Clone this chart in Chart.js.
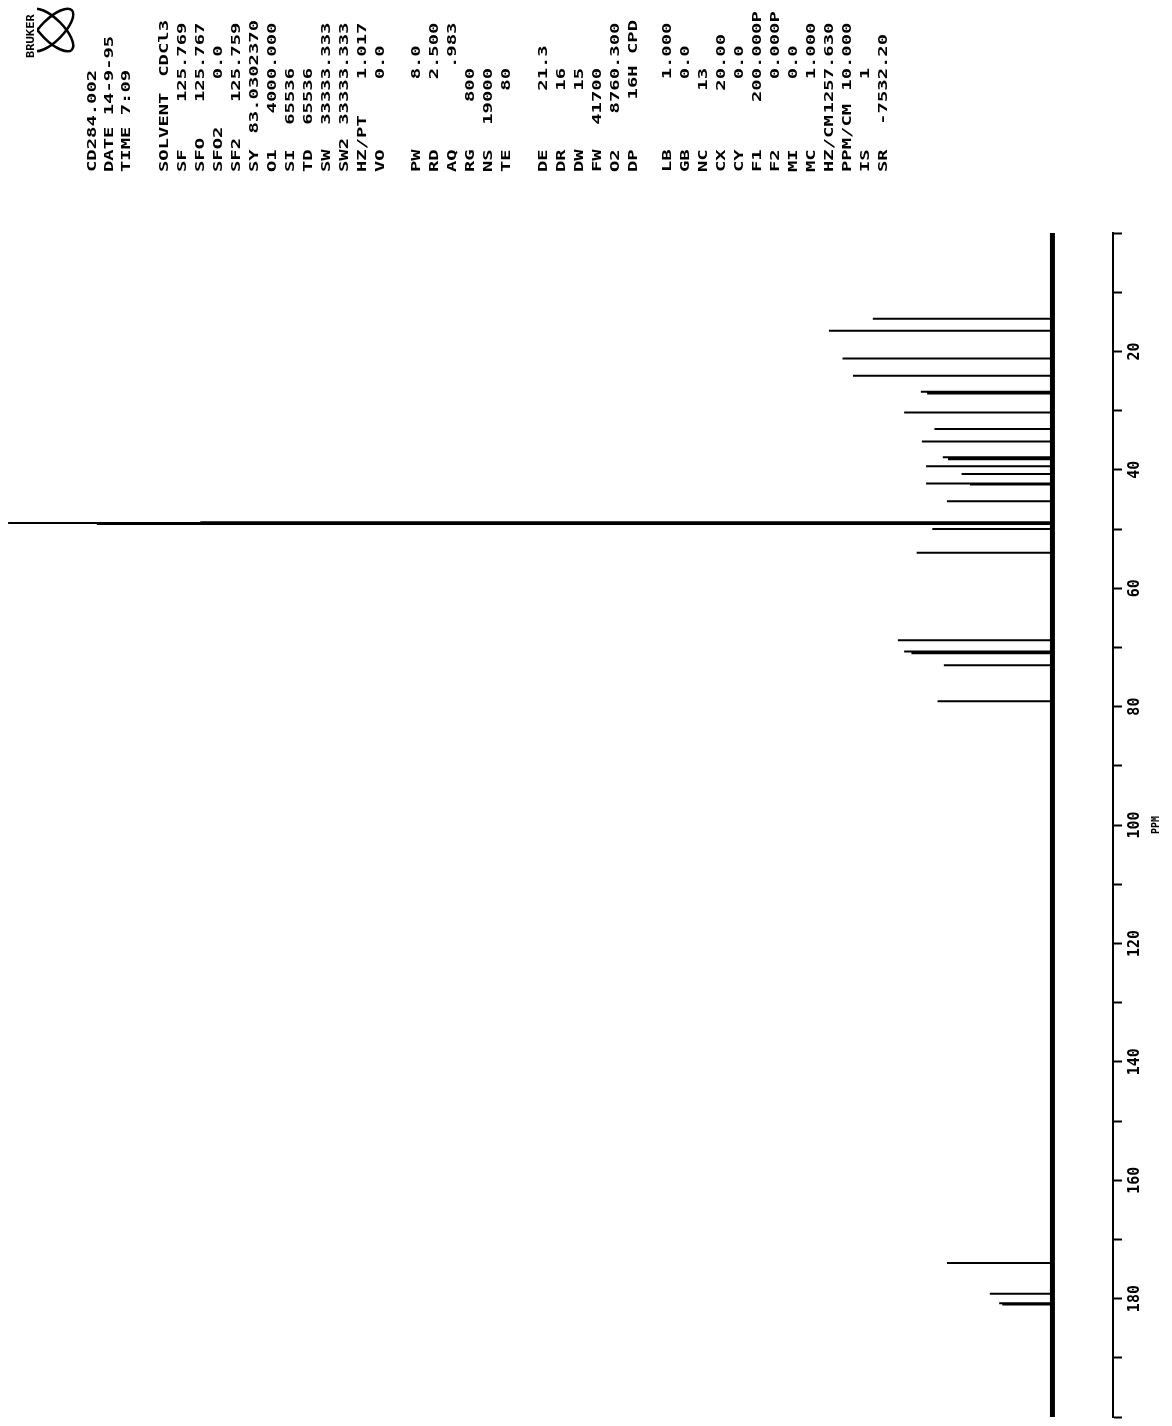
<!DOCTYPE html>
<html>
<head>
<meta charset="utf-8">
<script src="https://cdn.jsdelivr.net/npm/chart.js@4/dist/chart.umd.min.js"></script>
<style>
  html, body { margin: 0; padding: 0; background: #fff; }
  #wrap { position: relative; width: 1172px; height: 1426px; }
</style>
</head>
<body>
<div id="wrap"><canvas id="chart"></canvas></div>
<script>
// 13C spectrum, peaks (ppm, relative height, tallest = 100)
const peakPpm = [14.5, 16.5, 21.2, 24.1, 26.8, 27.1, 30.3, 33.1, 35.2, 37.9, 38.2, 39.4, 40.7, 42.3, 42.5, 45.3,
  48.85, 49.0, 49.15, 50.0, 54.0, 68.8, 70.7, 71.0, 73.0, 79.1, 174.0, 179.2, 180.8, 181.0];
const peakHeight = [17.2, 21.4, 20.1, 19.1, 12.6, 12.0, 14.2, 11.3, 12.5, 10.5, 10.0, 12.1, 8.7, 12.1, 7.9, 10.1,
  81.6, 100, 91.5, 11.5, 13.0, 14.8, 14.2, 13.5, 10.4, 11.0, 10.1, 6.0, 5.1, 4.8];
const ppmRange = [0, 200];
const ppmLabels = [20, 40, 60, 80, 100, 120, 140, 160, 180];

// acquisition parameters printed above the spectrum
const headerLines = ["CD284.002", "DATE 14-9-95", "TIME 7:09"];
const paramBlocks = [
  [["SOLVENT", "CDCl3"], ["SF", "125.769"], ["SFO", "125.767"], ["SFO2", "0.0"], ["SF2", "125.759"],
   ["SY", "83.0302370"], ["O1", "4000.000"], ["SI", "65536"], ["TD", "65536"], ["SW", "33333.333"],
   ["SW2", "33333.333"], ["HZ/PT", "1.017"], ["VO", "0.0"]],
  [["PW", "8.0"], ["RD", "2.500"], ["AQ", ".983"], ["RG", "800"], ["NS", "19000"], ["TE", "80"]],
  [["DE", "21.3"], ["DR", "16"], ["DW", "15"], ["FW", "41700"], ["O2", "8760.300"], ["DP", "16H CPD"]],
  [["LB", "1.000"], ["GB", "0.0"], ["NC", "13"], ["CX", "20.00"], ["CY", "0.0"], ["F1", "200.000P"],
   ["F2", "0.000P"], ["MI", "0.0"], ["MC", "1.000"], ["HZ/CM", "1257.630"], ["PPM/CM", "10.000"],
   ["IS", "1"], ["SR", "-7532.20"]]
];

const spectrum = [];
peakPpm.forEach((p, i) => {
  spectrum.push({ x: 0, y: p }, { x: peakHeight[i], y: p }, { x: 0, y: p });
});

const FONT = "bold 13px 'DejaVu Sans Mono'";
const STRETCH = 1.45;

// draws a string rotated to read bottom-to-top, d = distance up from the foot
function upText(ctx, str, x, foot, d, align, stretch = STRETCH) {
  ctx.save();
  ctx.translate(x, foot);
  ctx.rotate(-Math.PI / 2);
  ctx.scale(stretch, 1);
  ctx.textAlign = align;
  ctx.textBaseline = "middle";
  ctx.fillText(str, d / stretch, 0);
  ctx.restore();
}

const paperText = {
  id: "paperText",
  afterDraw(chart) {
    const ctx = chart.ctx;
    ctx.save();
    ctx.fillStyle = "#000";
    ctx.strokeStyle = "#000";

    // logo
    ctx.lineWidth = 2.5;
    [Math.PI / 4, -Math.PI / 4].forEach(a => {
      ctx.beginPath();
      ctx.ellipse(52, 30, 28, 11, a, 0, Math.PI * 2);
      ctx.stroke();
    });
    ctx.font = "bold 11px 'DejaVu Sans Mono'";
    ctx.fillStyle = "#fff";
    ctx.fillRect(25, 6, 12, 52);
    ctx.fillStyle = "#000";
    upText(ctx, "BRUKER", 31, 58, 0, "left", 1.1);

    ctx.font = FONT;
    const foot = 172;
    headerLines.forEach((s, i) => upText(ctx, s, 93 + i * 17, foot, 0, "left"));

    const starts = [165, 417, 544, 668];
    const dec = foot - 68;
    paramBlocks.forEach((rows, b) => {
      rows.forEach(([name, val], i) => {
        const x = starts[b] + i * 18;
        upText(ctx, name, x, foot, 0, "left");
        const parts = val.split(".");
        const numeric = /^[-\d.]+P?$/.test(val) && (parts.length < 2 || parts[1].length <= 4);
        if (numeric) {
          upText(ctx, parts[0], x, foot, dec, "right");
          if (parts.length > 1) upText(ctx, "." + parts[1], x, foot, dec, "left");
        } else {
          upText(ctx, val, x, foot, foot - 20, "right");
        }
      });
    });

    // unit beside the 100 label
    const ys = chart.scales.y;
    ctx.font = "bold 10px 'DejaVu Sans Mono'";
    ctx.save();
    ctx.translate(ys.left + 43, ys.getPixelForValue(100));
    ctx.rotate(-Math.PI / 2);
    ctx.textAlign = "center";
    ctx.textBaseline = "middle";
    ctx.fillText("PPM", 0, 0);
    ctx.restore();
    ctx.restore();
  }
};

new Chart(document.getElementById("chart"), {
  type: "scatter",
  data: {
    datasets: [
      {
        data: [{ x: 0, y: ppmRange[0] }, { x: 0, y: ppmRange[1] }],
        showLine: true, borderColor: "#000", borderWidth: 5, pointRadius: 0
      },
      {
        data: spectrum,
        showLine: true, borderColor: "#000", borderWidth: 2, pointRadius: 0,
        borderJoinStyle: "bevel", tension: 0
      }
    ]
  },
  options: {
    responsive: true,
    maintainAspectRatio: false,
    animation: false,
    events: [],
    layout: { padding: { top: 233, bottom: 0, left: 5, right: 19 } },
    plugins: { legend: { display: false }, tooltip: { enabled: false } },
    scales: {
      x: { type: "linear", reverse: true, min: -5.8, max: 100.3, display: false },
      y: {
        type: "linear", reverse: true, position: "right",
        min: ppmRange[0], max: ppmRange[1],
        afterFit: s => { s.width = 40; },
        border: { color: "#000", width: 2 },
        grid: { drawOnChartArea: false, color: "#000", tickLength: 9, tickWidth: 2 },
        ticks: {
          stepSize: 10, autoSkip: false, color: "#000", padding: 0,
          minRotation: 90, maxRotation: 90, crossAlign: "center",
          font: { family: "DejaVu Sans Mono", size: 15, weight: "bold" },
          callback: v => ppmLabels.includes(v) ? String(v) : ""
        }
      }
    }
  },
  plugins: [paperText]
});
</script>
</body>
</html>
